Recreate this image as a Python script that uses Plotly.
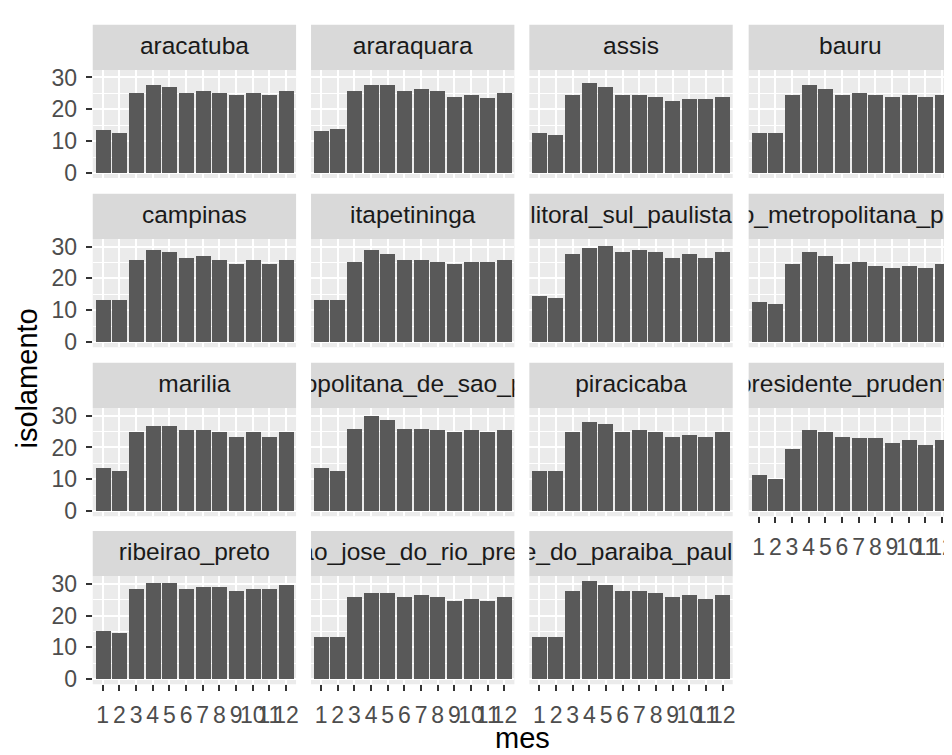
import plotly.graph_objects as go

# ---------------- data ----------------
months = [1, 2, 3, 4, 5, 6, 7, 8, 9, 10, 11, 12]
month_labels = ["1", "2", "3", "4", "5", "6", "7", "8", "9", "10", "11", "12"]
y_ticks = [0, 10, 20, 30]
y_minor = [5, 15, 25]

regions = [
    "aracatuba", "araraquara", "assis", "bauru",
    "campinas", "itapetininga", "litoral_sul_paulista", "macro_metropolitana_paulista",
    "marilia", "metropolitana_de_sao_paulo", "piracicaba", "presidente_prudente",
    "ribeirao_preto", "sao_jose_do_rio_preto", "vale_do_paraiba_paulista",
]

aracatuba = [13.4, 12.6, 25.2, 27.6, 27.0, 25.2, 25.8, 25.2, 24.6, 25.2, 24.6, 25.8]
araraquara = [13.3, 14.0, 25.8, 27.6, 27.6, 25.8, 26.4, 25.8, 23.8, 24.5, 23.7, 25.2]
assis = [12.6, 12.0, 24.5, 28.3, 27.0, 24.5, 24.5, 23.8, 22.6, 23.2, 23.2, 23.8]
bauru = [12.6, 12.6, 24.5, 27.6, 26.4, 24.5, 25.2, 24.5, 23.8, 24.5, 23.8, 24.5]
campinas = [13.3, 13.3, 25.7, 29.0, 28.3, 26.4, 27.1, 25.7, 24.5, 25.7, 24.5, 25.7]
itapetininga = [13.3, 13.3, 25.1, 29.0, 27.7, 25.7, 25.7, 25.1, 24.5, 25.1, 25.1, 25.7]
litoral_sul_paulista = [14.5, 13.9, 27.7, 29.6, 30.3, 28.3, 29.0, 28.3, 26.4, 27.7, 26.4, 28.3]
macro_metropolitana_paulista = [12.6, 12.0, 24.5, 28.3, 27.1, 24.5, 25.1, 23.9, 23.3, 23.9, 23.3, 24.5]
marilia = [13.4, 12.7, 24.7, 26.6, 26.6, 25.3, 25.3, 24.7, 23.4, 24.7, 23.4, 24.7]
metropolitana_de_sao_paulo = [13.4, 12.7, 25.9, 29.7, 28.5, 25.9, 25.9, 25.3, 24.7, 25.3, 24.7, 25.3]
piracicaba = [12.7, 12.7, 24.7, 27.9, 27.2, 24.7, 25.3, 24.7, 23.4, 24.0, 23.4, 24.7]
presidente_prudente = [11.4, 10.2, 19.6, 25.3, 24.7, 23.4, 22.8, 22.8, 21.5, 22.2, 20.9, 22.2]
ribeirao_preto = [15.2, 14.5, 28.2, 30.2, 30.2, 28.2, 28.9, 28.9, 27.6, 28.2, 28.2, 29.5]
sao_jose_do_rio_preto = [13.3, 13.3, 25.8, 27.0, 27.0, 25.8, 26.4, 25.8, 24.5, 25.2, 24.5, 25.8]
vale_do_paraiba_paulista = [13.3, 13.3, 27.6, 30.8, 29.5, 27.6, 27.6, 27.0, 25.8, 26.4, 25.2, 26.4]

series = {
    "aracatuba": aracatuba,
    "araraquara": araraquara,
    "assis": assis,
    "bauru": bauru,
    "campinas": campinas,
    "itapetininga": itapetininga,
    "litoral_sul_paulista": litoral_sul_paulista,
    "macro_metropolitana_paulista": macro_metropolitana_paulista,
    "marilia": marilia,
    "metropolitana_de_sao_paulo": metropolitana_de_sao_paulo,
    "piracicaba": piracicaba,
    "presidente_prudente": presidente_prudente,
    "ribeirao_preto": ribeirao_preto,
    "sao_jose_do_rio_preto": sao_jose_do_rio_preto,
    "vale_do_paraiba_paulista": vale_do_paraiba_paulista,
}

# ---------------- layout geometry (pixels) ----------------
W, H = 952, 755
col_left = [85, 304, 523, 743]
panel_w = 204
strip_top = [12, 184, 356, 527]
strip_h = 46
panel_h = 110
FONT = "Liberation Sans, Arial, sans-serif"

y_max = max(max(v) for v in series.values())
y_range = [-0.05 * y_max, 1.05 * y_max]
x_range = [0.4, 12.6]


def px_x(x):
    return x / W


def px_y(y):
    return 1 - y / H


fig = go.Figure()
shapes = []
layout = {}
n = len(regions)

for i, reg in enumerate(regions):
    r, c = divmod(i, 4)
    k = i + 1
    s = i + 1 + n
    x0 = col_left[c]
    x1 = x0 + panel_w
    st = strip_top[r]
    pt = st + strip_h
    pb = pt + panel_h

    # bottom-most panel in each column gets x tick labels
    is_bottom = (i + 4) >= n
    is_left = c == 0

    xa = "xaxis" if k == 1 else f"xaxis{k}"
    ya = "yaxis" if k == 1 else f"yaxis{k}"
    layout[xa] = dict(
        domain=[px_x(x0), px_x(x1)], anchor=f"y{k}" if k > 1 else "y",
        range=x_range, tickmode="array", tickvals=months, ticktext=month_labels,
        showgrid=True, gridcolor="white", gridwidth=2, zeroline=False,
        showline=False, showticklabels=is_bottom, tickangle=0,
        ticks="outside" if is_bottom else "", ticklen=6, tickwidth=1.5,
        tickcolor="#333333", ticklabelstandoff=4,
        tickfont=dict(family=FONT, size=23, color="#4D4D4D"),
        fixedrange=True,
    )
    layout[ya] = dict(
        domain=[px_y(pb), px_y(pt)], anchor=f"x{k}" if k > 1 else "x",
        range=y_range, tickmode="array", tickvals=y_ticks,
        ticktext=[str(t) for t in y_ticks],
        showgrid=True, gridcolor="white", gridwidth=2, zeroline=False,
        showline=False, showticklabels=is_left,
        ticks="outside" if is_left else "", ticklen=6, tickwidth=1.5,
        tickcolor="#333333", ticklabelstandoff=4,
        tickfont=dict(family=FONT, size=23, color="#4D4D4D"),
        minor=dict(tickmode="array", tickvals=y_minor, showgrid=True,
                   gridcolor="white", gridwidth=1, ticks=""),
        fixedrange=True,
    )
    # strip axes
    layout[f"xaxis{s}"] = dict(domain=[px_x(x0), px_x(x1)], anchor=f"y{s}",
                               range=[0, 1], visible=False, fixedrange=True)
    layout[f"yaxis{s}"] = dict(domain=[px_y(pt), px_y(st)], anchor=f"x{s}",
                               range=[0, 1], visible=False, fixedrange=True)

    # backgrounds
    shapes.append(dict(type="rect", xref="paper", yref="paper", layer="below",
                       x0=px_x(x0), x1=px_x(x1), y0=px_y(pb), y1=px_y(pt),
                       fillcolor="#EBEBEB", line=dict(width=0)))
    shapes.append(dict(type="rect", xref="paper", yref="paper", layer="below",
                       x0=px_x(x0), x1=px_x(x1), y0=px_y(pt), y1=px_y(st),
                       fillcolor="#D9D9D9", line=dict(width=0)))

    fig.add_trace(go.Bar(
        x=months, y=series[reg], width=0.9,
        marker=dict(color="#595959", line=dict(width=0)),
        xaxis=f"x{k}" if k > 1 else "x", yaxis=f"y{k}" if k > 1 else "y",
        showlegend=False, hoverinfo="skip",
    ))
    fig.add_trace(go.Scatter(
        x=[0.5], y=[0.5], mode="text", text=[reg],
        textposition="middle center",
        textfont=dict(family=FONT, size=24.5, color="#1A1A1A"),
        cliponaxis=True, xaxis=f"x{s}", yaxis=f"y{s}",
        showlegend=False, hoverinfo="skip",
    ))

annotations = [
    dict(text="isolamento", textangle=-90, xref="paper", yref="paper",
         x=px_x(19), y=px_y(372), xanchor="center", yanchor="middle",
         showarrow=False, font=dict(family=FONT, size=29, color="black")),
    dict(text="mes", xref="paper", yref="paper",
         x=px_x(516), y=px_y(738), xanchor="center", yanchor="middle",
         showarrow=False, font=dict(family=FONT, size=29, color="black")),
]

fig.update_layout(
    width=W, height=H, autosize=False,
    margin=dict(l=0, r=0, t=0, b=0),
    paper_bgcolor="white", plot_bgcolor="rgba(0,0,0,0)",
    shapes=shapes, annotations=annotations, bargap=0,
    showlegend=False,
    **layout,
)

fig.write_html("out.html")
